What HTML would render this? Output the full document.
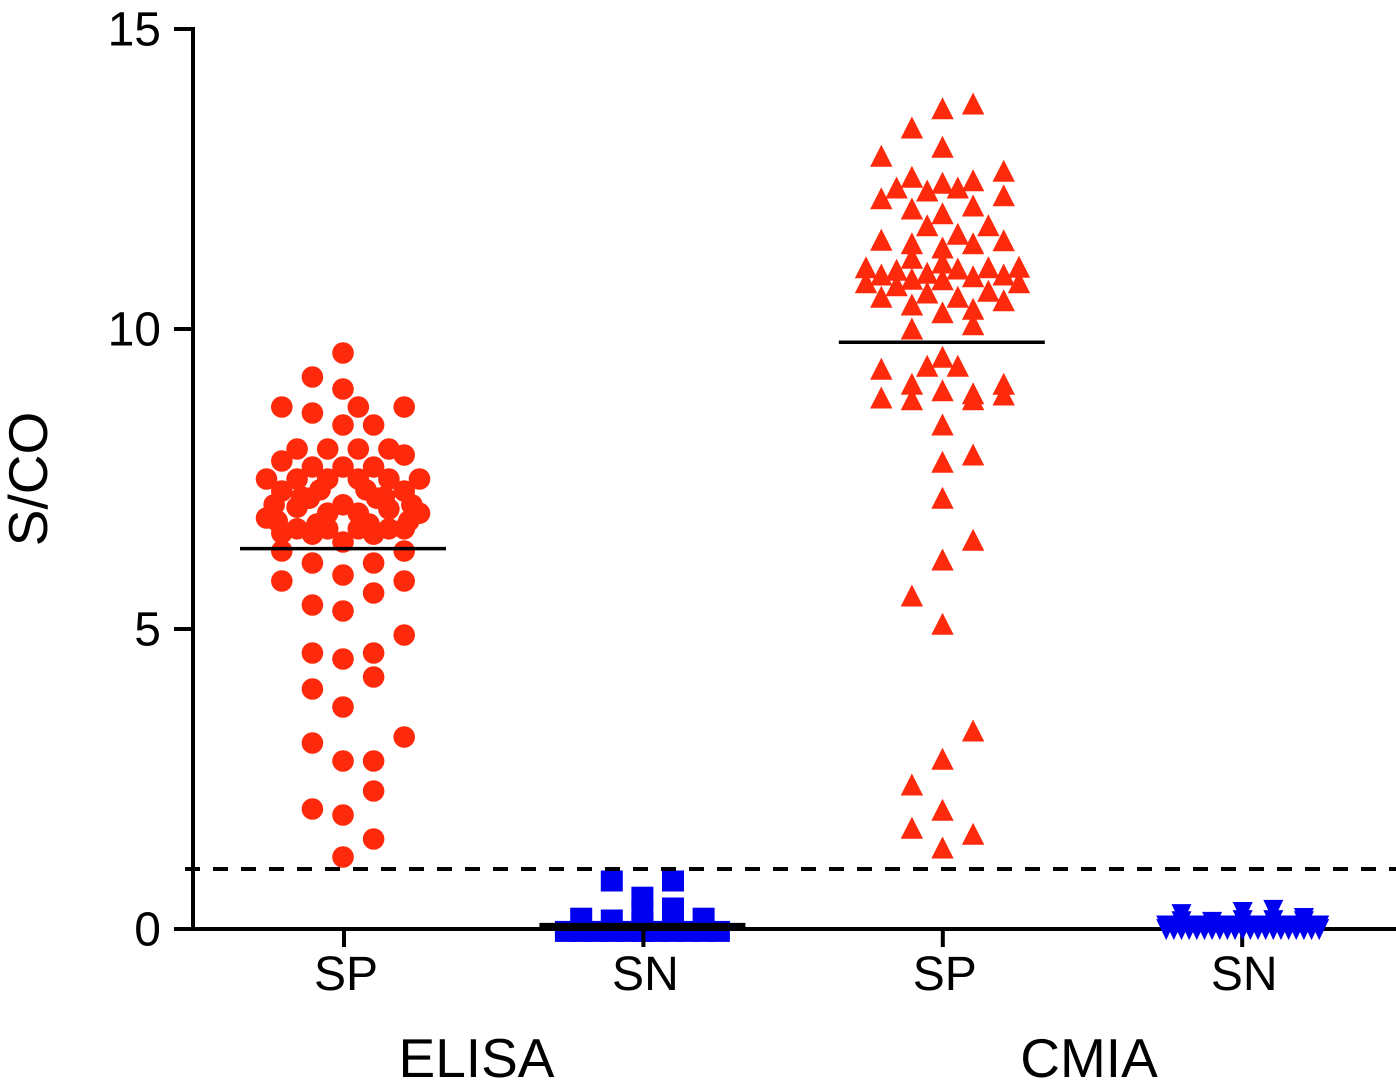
<!DOCTYPE html>
<html>
<head>
<meta charset="utf-8">
<title>S/CO scatter</title>
<style>
html,body{margin:0;padding:0;background:#fff;width:1396px;height:1090px;overflow:hidden}
svg{display:block}
text{font-family:"Liberation Sans",Arial,sans-serif;fill:#000}
</style>
</head>
<body>
<svg id="chart" xmlns="http://www.w3.org/2000/svg" width="1396" height="1090" viewBox="0 0 1396 1090"></svg>
<script>
const yTickLabels = [0, 5, 10, 15];
const cutoffValue = 1;
const xCategories = ["SP", "SN", "SP", "SN"];
const assayNames = ["ELISA", "CMIA"];
const meanValues = [6.34, 0.06, 9.78];

const elisaSpValues = [9.6,9.2,9.0,8.7,8.7,8.7,8.6,8.4,8.4,8.0,8.0,8.0,8.0,7.8,7.9,7.7,7.7,7.7,7.5,7.5,7.5,7.5,7.5,7.5,7.3,7.3,7.18,7.18,7.32,7.32,7.07,7.03,7.0,6.93,6.93,6.85,6.93,7.07,7.07,6.6,6.67,6.58,6.67,6.67,6.58,6.67,6.67,6.45,6.3,6.3,6.1,6.1,5.9,5.8,5.8,5.6,5.4,5.3,4.9,4.6,4.6,4.5,4.2,4.0,3.7,3.2,3.1,2.8,2.8,2.3,2.0,1.9,1.5,1.2,6.8,6.8,7.2,7.2,6.75,6.75];
const elisaSpSlots = [0,-2,0,-4,4,1,-2,0,2,-3,-1,1,3,-4,4,-2,2,0,-5,5,-3,3,-1,1,-4,4,-2.2,2.2,-1.5,1.5,0,-3,3,-1,1,-5,5,-4.5,4.5,-4,-3,-2,-1,1,2,3,4,0,-4,4,-2,2,0,-4,4,2,-2,0,4,-2,2,0,2,-2,0,4,-2,0,2,2,-2,0,2,0,-4.3,4.3,-2.7,2.7,-1.7,1.7];

const elisaSnValues = [-0.04,-0.04,-0.04,-0.04,-0.04,-0.04,-0.04,-0.04,-0.04,-0.04,-0.04,0.18,0.15,0.53,0.3,0.1,0.35,0.15,0.18,0.8,0.8];
const elisaSnSlots = [-5,-4,-3,-2,-1,0,1,2,3,4,5,-4,-2,0,0,0,2,2,4,-2,2];

const cmiaSpValues = [13.75,13.67,13.35,13.03,12.88,12.63,12.53,12.47,12.43,12.35,12.35,12.3,12.17,12.22,12.05,12.0,11.92,11.72,11.72,11.58,11.48,11.47,11.42,11.42,11.35,11.18,11.02,11.03,10.9,11.02,10.9,10.87,10.98,10.83,10.93,11.1,11.0,10.82,10.72,10.77,10.77,10.53,10.63,10.6,10.47,10.53,10.4,10.27,10.33,10.07,10.0,9.53,9.38,9.38,9.33,9.08,9.08,8.97,8.92,8.82,8.9,8.85,8.82,8.4,7.9,7.78,7.18,6.48,6.15,5.55,5.08,3.3,2.83,2.4,1.98,1.68,1.58,1.35];
const cmiaSpSlots = [2,0,-2,0,-4,4,-2,2,0,-3,1,-1,-4,4,2,-2,0,-1,3,1,-4,4,2,-2,0,-2,-5,5,-4,3,4,2,-3,-2,-1,0,1,0,-3,-5,5,-4,3,-1,4,1,-2,0,2,2,-2,0,-1,1,-4,-2,4,0,2,2,4,-4,-2,0,2,0,0,2,0,-2,0,2,0,-2,0,-2,2,0];

const cmiaSnValues = [-0.01,-0.01,-0.01,-0.01,-0.01,-0.01,-0.01,-0.01,-0.01,-0.01,-0.01,-0.01,-0.01,-0.01,-0.01,-0.01,-0.01,-0.01,-0.01,-0.01,-0.01,0.24,0.11,0.275,0.31,0.175,0.12,0.14,0.14,0.12,0.05,0.05,0.05,0.05,0.05,0.05,0.05,0.05,0.05,0.05,0.05];
const cmiaSnSlots = [-5,-4,-3,-2,-1,0,1,2,3,4,5,-4.5,-3.5,-2.5,-1.5,-0.5,0.5,1.5,2.5,3.5,4.5,-4,-2,0,2,4,-4,0,2,4,-5,-4,-3,-2,-1,0,1,2,3,4,5];

const RED = "#ff2a0c";
const BLUE = "#0000f0";
const SVGNS = "http://www.w3.org/2000/svg";
const chart = document.getElementById("chart");

function yScale(v) { return 929 - 60 * v; }
function groupX(i) { return 343 + 299.4 * i; }
function slotX(i, slot) { return groupX(i) + 15.3 * slot; }

function make(tag, attrs, parent) {
  const e = document.createElementNS(SVGNS, tag);
  for (const k in attrs) e.setAttribute(k, attrs[k]);
  (parent || chart).appendChild(e);
  return e;
}
function group(name) {
  const g = make("g", {});
  
  
  return g;
}

/* series */
const g1 = group("elisa-sp-points");
elisaSpValues.forEach(function (v, k) {
  const c = make("circle", { cx: slotX(0, elisaSpSlots[k]), cy: yScale(v), r: 10.8, fill: RED }, g1);
  
  
});

const g2 = group("elisa-sn-points");
elisaSnValues.forEach(function (v, k) {
  const x = slotX(1, elisaSnSlots[k]), y = yScale(v);
  const s = make("rect", { x: x - 11, y: y - 10.5, width: 22, height: 21, fill: BLUE }, g2);
  
  
});

const g3 = group("cmia-sp-points");
cmiaSpValues.forEach(function (v, k) {
  const x = slotX(2, cmiaSpSlots[k]) + 0.7, y = yScale(v);
  const t = make("polygon", { points: (x) + "," + (y - 11.5) + " " + (x + 11.2) + "," + (y + 10.5) + " " + (x - 11.2) + "," + (y + 10.5), fill: RED }, g3);
  
  
});

/* axes and reference lines */
const axes = group("axes");
const yAxisLine = make("line", { x1: 193, y1: yScale(15) - 2, x2: 193, y2: yScale(0) + 2, stroke: "#000", "stroke-width": 4 }, axes);


const xAxisLine = make("line", { x1: 191, y1: yScale(0), x2: 1396, y2: yScale(0), stroke: "#000", "stroke-width": 4 }, axes);



yTickLabels.forEach(function (v) {
  const tick = make("line", { x1: 174, y1: yScale(v), x2: 193, y2: yScale(v), stroke: "#000", "stroke-width": 4 }, axes);
  
  
  const lab = make("text", { x: 161, y: yScale(v) + 16.5, "font-size": 48, "text-anchor": "end" }, axes);
  lab.textContent = String(v);
  
  
});

xCategories.forEach(function (name, i) {
  const tick = make("line", { x1: groupX(i) + 1, y1: yScale(0), x2: groupX(i) + 1, y2: 947, stroke: "#000", "stroke-width": 4 }, axes);
  
  
  const lab = make("text", { x: groupX(i) + 3, y: 990, "font-size": 48, "text-anchor": "middle" }, axes);
  lab.textContent = name;
  
  
});

const cutoff = make("line", { x1: 185, y1: yScale(cutoffValue), x2: 1396, y2: yScale(cutoffValue), stroke: "#000", "stroke-width": 4, "stroke-dasharray": "15 13" }, axes);



meanValues.forEach(function (v, i) {
  const m = make("line", { x1: groupX(i) - 103, y1: yScale(v), x2: groupX(i) + 103, y2: yScale(v), stroke: "#000", "stroke-width": i === 1 ? 5 : 3.5 }, axes);
  
  
});

/* CMIA SN drawn above the axis line */
const g4 = group("cmia-sn-points");
cmiaSnValues.forEach(function (v, k) {
  const x = slotX(3, cmiaSnSlots[k]) + 1.5, y = yScale(v);
  const t = make("polygon", { points: (x - 10) + "," + (y - 10.5) + " " + (x + 10) + "," + (y - 10.5) + " " + x + "," + (y + 10.5), fill: BLUE }, g4);
  
  
});

const elisaLabel = make("text", { x: 476.5, y: 1077, "font-size": 55, "text-anchor": "middle" });
elisaLabel.textContent = assayNames[0];



const cmiaLabel = make("text", { x: 1089, y: 1077, "font-size": 55, "text-anchor": "middle" });
cmiaLabel.textContent = assayNames[1];



const yTitle = make("text", { x: 0, y: 0, "font-size": 55, "text-anchor": "middle", transform: "translate(47 479) rotate(-90)" });
yTitle.textContent = "S/CO";


</script>
</body>
</html>
